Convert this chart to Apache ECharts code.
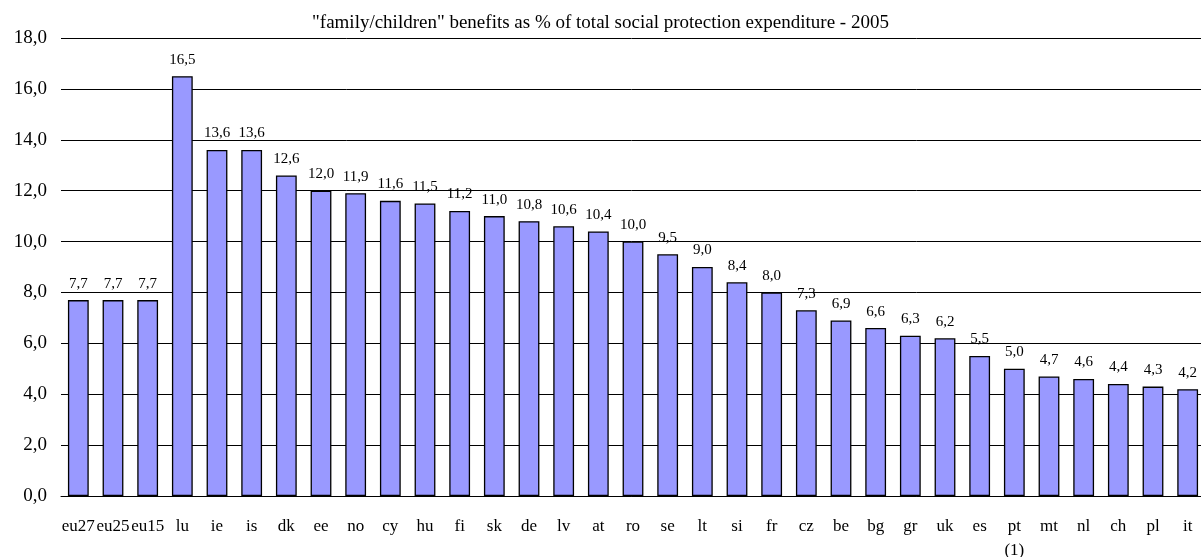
<!DOCTYPE html>
<html>
<head>
<meta charset="utf-8">
<script src="https://cdn.jsdelivr.net/npm/echarts@6/dist/echarts.min.js"></script>
<style>
  html, body { margin: 0; padding: 0; background: #fff; }
  #main { width: 1201px; height: 557px; }
</style>
</head>
<body>
<div id="main"></div>
<script>
// countries, sorted as in the source table
var countries = ['eu27', 'eu25', 'eu15', 'lu', 'ie', 'is', 'dk', 'ee', 'no', 'cy', 'hu', 'fi', 'sk', 'de', 'lv', 'at', 'ro', 'se', 'lt', 'si', 'fr', 'cz', 'be', 'bg', 'gr', 'uk', 'es', 'pt\n(1)', 'mt', 'nl', 'ch', 'pl', 'it'];
// family/children benefits, % of total social protection expenditure
var shares = [7.7, 7.7, 7.7, 16.5, 13.6, 13.6, 12.6, 12.0, 11.9, 11.6, 11.5, 11.2, 11.0, 10.8, 10.6, 10.4, 10.0, 9.5, 9.0, 8.4, 8.0, 7.3, 6.9, 6.6, 6.3, 6.2, 5.5, 5.0, 4.7, 4.6, 4.4, 4.3, 4.2];

var serif = '"Liberation Serif", "DejaVu Serif", serif';
var comma = function (v) { return Number(v).toFixed(1).replace('.', ','); };

var chart = echarts.init(document.getElementById('main'));
chart.setOption({
  animation: false,
  title: {
    text: '"family/children" benefits as % of total social protection expenditure - 2005',
    left: 'center',
    top: 9,
    textStyle: { fontFamily: serif, fontSize: 19, fontWeight: 'normal', color: '#000' }
  },
  grid: { left: 61, right: -4, top: 38, bottom: 61, outerBoundsMode: 'none' },
  xAxis: {
    type: 'category',
    data: countries,
    axisLine: { show: true, lineStyle: { color: '#000', width: 1 } },
    axisTick: { show: false },
    axisLabel: { interval: 0, fontFamily: serif, fontSize: 17, color: '#000', margin: 19, lineHeight: 24 }
  },
  yAxis: {
    type: 'value',
    min: 0,
    max: 18,
    interval: 2,
    axisLine: { show: false },
    axisTick: { show: false },
    axisLabel: { fontFamily: serif, fontSize: 19, color: '#000', margin: 14, formatter: comma },
    splitLine: { lineStyle: { color: '#000', width: 1 } }
  },
  series: [{
    type: 'bar',
    data: shares,
    barWidth: '60%',
    itemStyle: { color: '#9999ff', borderColor: '#000', borderWidth: 1.3 },
    label: {
      show: true,
      position: 'top',
      distance: 9,
      fontFamily: serif,
      fontSize: 15,
      color: '#000',
      formatter: function (p) { return comma(p.value); }
    }
  }]
});
</script>
</body>
</html>
